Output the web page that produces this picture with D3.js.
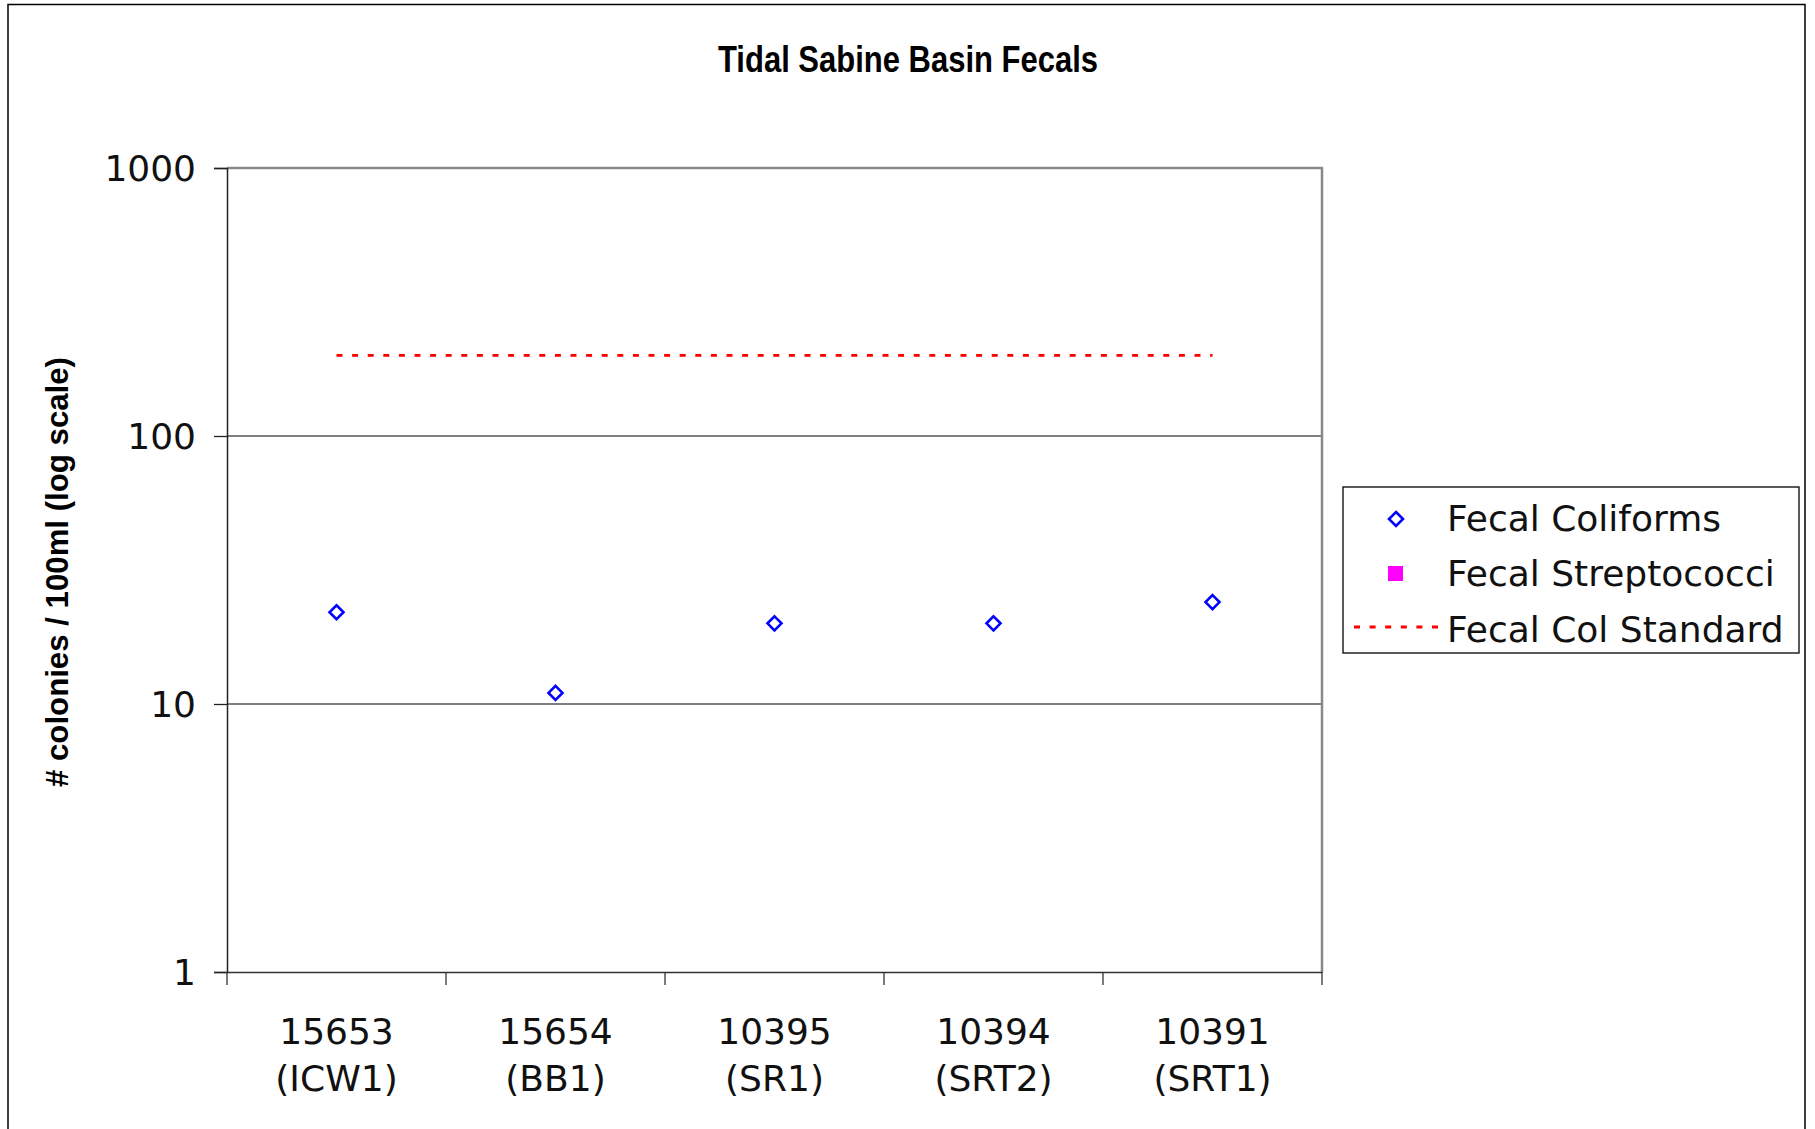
<!DOCTYPE html>
<html>
<head>
<meta charset="utf-8">
<script src="https://cdn.jsdelivr.net/npm/d3@7"></script>
<style>
  html, body { margin: 0; padding: 0; background: #fff; }
  svg { display: block; }
</style>
</head>
<body>
<svg id="chart" width="1815" height="1129"></svg>
<script>
// ---- data ----
const categories = ["15653 (ICW1)", "15654 (BB1)", "10395 (SR1)", "10394 (SRT2)", "10391 (SRT1)"];
const categoryLines = [["15653", "(ICW1)"], ["15654", "(BB1)"], ["10395", "(SR1)"], ["10394", "(SRT2)"], ["10391", "(SRT1)"]];
const fecalColiforms = [22, 11, 20, 20, 24];
const fecalStreptococci = [null, null, null, null, null];
const fecalColStandard = [200, 200, 200, 200, 200];
const yTicks = [1, 10, 100, 1000];
const seriesNames = ["Fecal Coliforms", "Fecal Streptococci", "Fecal Col Standard"];
const titleText = "Tidal Sabine Basin Fecals";
const yLabelText = "# colonies / 100ml (log scale)";

// ---- layout ----
const svg = d3.select("#chart");
const plot = { left: 227, right: 1322, top: 168, bottom: 972 };
const FONT = "'DejaVu Sans', sans-serif";

// outer border
svg.append("rect").attr("x", 8).attr("y", 4.5).attr("width", 1797).attr("height", 1140)
  .attr("fill", "none").attr("stroke", "#000").attr("stroke-width", 1.5);

const x = d3.scaleBand().domain(categories).range([plot.left, plot.right]).padding(0);
const y = d3.scaleLog().domain([1, 1000]).range([plot.bottom, plot.top]);
const cx = c => x(c) + x.bandwidth() / 2;

// title
svg.append("text").attr("x", 908).attr("y", 72).attr("text-anchor", "middle")
  .attr("font-family", "'Liberation Sans Narrow', 'Liberation Sans', Arial, sans-serif")
  .attr("font-stretch", "condensed")
  .attr("font-weight", "bold").attr("font-size", 37)
  .attr("textLength", 380).attr("lengthAdjust", "spacingAndGlyphs")
  .text(titleText);

// y label
svg.append("text")
  .attr("transform", "translate(68,572) rotate(-90)")
  .attr("text-anchor", "middle")
  .attr("font-family", "'Liberation Sans Narrow', 'Liberation Sans', Arial, sans-serif")
  .attr("font-weight", "bold").attr("font-size", 31)
  .attr("textLength", 430).attr("lengthAdjust", "spacingAndGlyphs")
  .text(yLabelText);

// gridlines (10, 100)
svg.append("g").selectAll("line").data(yTicks.filter(t => t > 1 && t < 1000)).join("line")
  .attr("x1", plot.left).attr("x2", plot.right)
  .attr("y1", d => y(d)).attr("y2", d => y(d))
  .attr("stroke", "#555").attr("stroke-width", 1.3);

// plot area border: top & right gray
svg.append("line").attr("x1", plot.left).attr("x2", plot.right + 1).attr("y1", plot.top).attr("y2", plot.top)
  .attr("stroke", "#888").attr("stroke-width", 2.5);
svg.append("line").attr("x1", plot.right).attr("x2", plot.right).attr("y1", plot.top).attr("y2", plot.bottom)
  .attr("stroke", "#888").attr("stroke-width", 2.5);

// y axis
const yAxis = d3.axisLeft(y).tickValues(yTicks).tickFormat(d3.format("d")).tickSize(13).tickPadding(18);
const gy = svg.append("g").attr("transform", `translate(${plot.left},0)`).call(yAxis);
gy.select(".domain").attr("stroke", "#222").attr("stroke-width", 1.5);
gy.selectAll(".tick line").attr("stroke", "#222").attr("stroke-width", 1.3);
gy.selectAll(".tick text").attr("font-family", FONT).attr("font-size", 36).attr("fill", "#111").attr("dy", "0.36em");

// x axis
const xAxis = d3.axisBottom(x).tickSize(0).tickFormat("");
const gx = svg.append("g").attr("transform", `translate(0,${plot.bottom})`).call(xAxis);
gx.select(".domain").attr("stroke", "#333").attr("stroke-width", 1.5);
gx.selectAll(".tick").remove();
// tick marks at band edges
const edges = categories.map(c => x(c)).concat([plot.right]);
gx.selectAll("line.edge").data(edges).join("line").attr("class", "edge")
  .attr("x1", d => d).attr("x2", d => d).attr("y1", 0).attr("y2", 13)
  .attr("stroke", "#333").attr("stroke-width", 1.3);
// labels
const lbl = gx.selectAll("text.cat").data(categories).join("text").attr("class", "cat")
  .attr("x", d => cx(d)).attr("text-anchor", "middle")
  .attr("font-family", FONT).attr("font-size", 36).attr("fill", "#111");
lbl.each(function(d, i) {
  const t = d3.select(this);
  categoryLines[i].forEach((ln, k) => {
    t.append("tspan").attr("x", cx(d)).attr("y", 72 + k * 47).text(ln);
  });
});

// standard line
const line = d3.line().x((d, i) => cx(categories[i])).y(d => y(d));
svg.append("path").datum(fecalColStandard).attr("d", line)
  .attr("fill", "none").attr("stroke", "#ff0000").attr("stroke-width", 2.8)
  .attr("stroke-dasharray", "6,9.6");

// diamonds
const diamond = s => `M0,${-s}L${s},0L0,${s}L${-s},0Z`;
svg.append("g").selectAll("path").data(fecalColiforms.map((v, i) => ({ v, c: categories[i] })).filter(d => d.v != null))
  .join("path")
  .attr("transform", d => `translate(${cx(d.c)},${y(d.v)})`)
  .attr("d", diamond(7)).attr("fill", "none").attr("stroke", "#0000ff").attr("stroke-width", 2.6);

// streptococci (no data)
svg.append("g").selectAll("rect").data(fecalStreptococci.map((v, i) => ({ v, c: categories[i] })).filter(d => d.v != null))
  .join("rect")
  .attr("x", d => cx(d.c) - 7.5).attr("y", d => y(d.v) - 7.5).attr("width", 15).attr("height", 15)
  .attr("fill", "#ff00ff");

// legend
const lg = svg.append("g");
lg.append("rect").attr("x", 1343).attr("y", 487).attr("width", 456).attr("height", 166)
  .attr("fill", "#fff").attr("stroke", "#000").attr("stroke-width", 1.3);
const rowsY = [531, 586, 642];
lg.selectAll("text").data(seriesNames).join("text")
  .attr("x", 1447).attr("y", (d, i) => rowsY[i])
  .attr("font-family", FONT).attr("font-size", 36).attr("fill", "#111")
  .text(d => d);
lg.append("path").attr("transform", "translate(1396,519)").attr("d", diamond(7))
  .attr("fill", "none").attr("stroke", "#0000ff").attr("stroke-width", 2.6);
lg.append("rect").attr("x", 1388).attr("y", 566).attr("width", 15).attr("height", 15).attr("fill", "#ff00ff");
lg.append("line").attr("x1", 1354).attr("x2", 1438).attr("y1", 627).attr("y2", 627)
  .attr("stroke", "#ff0000").attr("stroke-width", 2.8).attr("stroke-dasharray", "6,9.6");
</script>
</body>
</html>
